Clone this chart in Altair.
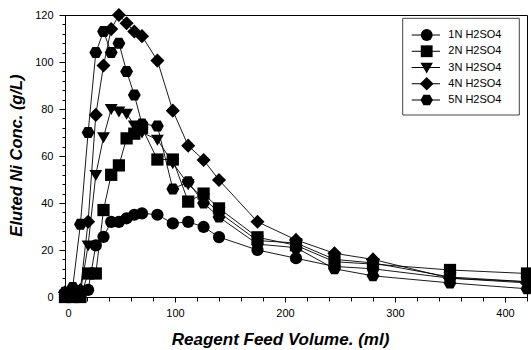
import altair as alt
import pandas as pd

# ---- data ----
volume = [0, 7, 14, 21, 28, 35, 42, 49, 56, 63, 70, 84, 98, 112, 126, 140, 175, 210, 245, 280, 350, 420]
n1 = [1, 0.5, 1, 3, 22, 25.6, 32, 32, 33.5, 35, 35.6, 35, 31.3, 32, 29.8, 25.5, 20, 16.5, 13, 12, 8, 6.5]
n2 = [0, 0, 0, 10, 10, 37, 52, 56, 67.5, 69.5, 72, 58.5, 58.5, 40.6, 44, 37.7, 25.4, 22, 15, 14, 11.5, 10]
n3 = [1, 1.5, 2, 22, 52, 68, 80, 79, 78, 73, 70, 67, 57, 48, 42, 36, 24, 23, 16, 14.5, 8.5, 6.5]
n4 = [2, 3, 3, 32, 77.5, 98.5, 114, 120, 116.5, 113, 111, 100.6, 79.3, 64.4, 58.3, 49.8, 32, 24.3, 18.6, 16, 8, 6]
n5 = [2, 4, 31, 70, 104, 113, 104, 108, 96, 86, 73.6, 72.8, 46, 49, 40, 34, 22.5, 21, 12, 9, 6, 3.5]
series_names = ["1N H2SO4", "2N H2SO4", "3N H2SO4", "4N H2SO4", "5N H2SO4"]
y_ticks = list(range(0, 121, 4))     # labelled every 20
x_ticks = list(range(0, 421, 20))    # labelled every 100

hexagon = "M-1.05,0L-0.55,-0.9L0.55,-0.9L1.05,0L0.55,0.9L-0.55,0.9Z"
diamond = "M0,-1.15L1.15,0L0,1.15L-1.15,0Z"
tri_down = "M-1.05,-0.8L1.05,-0.8L0,1.0Z"
shapes = ["circle", "square", tri_down, diamond, hexagon]

rows = []
for name, vals in zip(series_names, [n1, n2, n3, n4, n5]):
    for xv, yv in zip(volume, vals):
        rows.append({"series": name, "vol": xv, "conc": yv})
df = pd.DataFrame(rows)

FONT = "Liberation Sans"
shape_scale = alt.Scale(domain=series_names, range=shapes)
xscale = alt.Scale(domain=[0, 420], nice=False, zero=False)
yscale = alt.Scale(domain=[0, 120], nice=False)

x_axis = alt.Axis(values=x_ticks, title="Reagent Feed Volume. (ml)", grid=False,
                  labelExpr="datum.value % 100 === 0 ? datum.label : ''",
                  tickSize={"condition": {"test": "datum.value % 100 === 0", "value": 5}, "value": 4},
                  labelPadding=5, labelFontSize=11, labelFont=FONT,
                  labelColor="#000", tickColor="#000", domainColor="#000",
                  labelOverlap=False,
                  titleFont=FONT, titleFontSize=17, titleFontWeight="bold",
                  titleFontStyle="italic", titleColor="#000",
                  titleX=215, titleY=47, titleBaseline="alphabetic", titleAnchor="middle")
y_axis = alt.Axis(values=y_ticks, title="Eluted Ni Conc. (g/L)", grid=False,
                  labelExpr="datum.value % 20 === 0 ? datum.label : ''",
                  tickSize={"condition": {"test": "datum.value % 20 === 0", "value": 6}, "value": 3},
                  labelPadding=6, labelFontSize=11, labelFont=FONT,
                  labelColor="#000", tickColor="#000", domainColor="#000",
                  labelOverlap=False,
                  titleFont=FONT, titleFontSize=16.5, titleFontWeight="bold",
                  titleFontStyle="italic", titleColor="#000",
                  titleX=-44, titleY=140, titleBaseline="alphabetic", titleAngle=270,
                  titleAnchor="middle")

lines = alt.Chart(df).mark_line(color="black", strokeWidth=0.9).encode(
    x=alt.X("vol:Q", scale=xscale, axis=x_axis),
    y=alt.Y("conc:Q", scale=yscale, axis=y_axis),
    detail="series:N",
    order="vol:Q",
)
points = alt.Chart(df).mark_point(filled=True, color="black", opacity=1, size=150).encode(
    x=alt.X("vol:Q", scale=xscale, axis=x_axis),
    y=alt.Y("conc:Q", scale=yscale, axis=y_axis),
    shape=alt.Shape("series:N", scale=shape_scale, legend=None),
)
main = alt.layer(lines, points)

# ---- custom legend (line through symbol) ----
leg_df = pd.DataFrame({"series": series_names, "idx": list(range(len(series_names)))})
ly = alt.Y("idx:Q", scale=alt.Scale(domain=[0, 4], range=[20, 85]), axis=None)
box = alt.Chart(leg_df.head(1)).mark_rect(fill="white", stroke="#444", strokeWidth=1).encode(
    x=alt.value(337.7), x2=alt.value(454.3), y=alt.value(3.3), y2=alt.value(100))
leg_rules = alt.Chart(leg_df).mark_rule(color="black", strokeWidth=1).encode(
    x=alt.value(346.7), x2=alt.value(375), y=ly)
leg_pts = alt.Chart(leg_df).mark_point(filled=True, color="black", opacity=1, size=140).encode(
    x=alt.value(361.7), y=ly,
    shape=alt.Shape("series:N", scale=shape_scale, legend=None))
leg_txt = alt.Chart(leg_df).mark_text(align="left", baseline="middle", font=FONT,
                                      fontSize=11, color="#000").encode(
    x=alt.value(383.3), y=ly, text="series:N")
legend = alt.layer(box, leg_rules, leg_pts, leg_txt)

chart = alt.layer(main, legend).resolve_scale(y="independent").properties(
    width=462, height=282,
    padding={"left": 65, "top": 15, "right": 4, "bottom": 53},
    autosize=alt.AutoSizeParams(type="none"),
    background="white",
).configure_view(stroke="#000", strokeWidth=1)

chart.save("out.html", embed_options={"renderer": "svg", "actions": False})
